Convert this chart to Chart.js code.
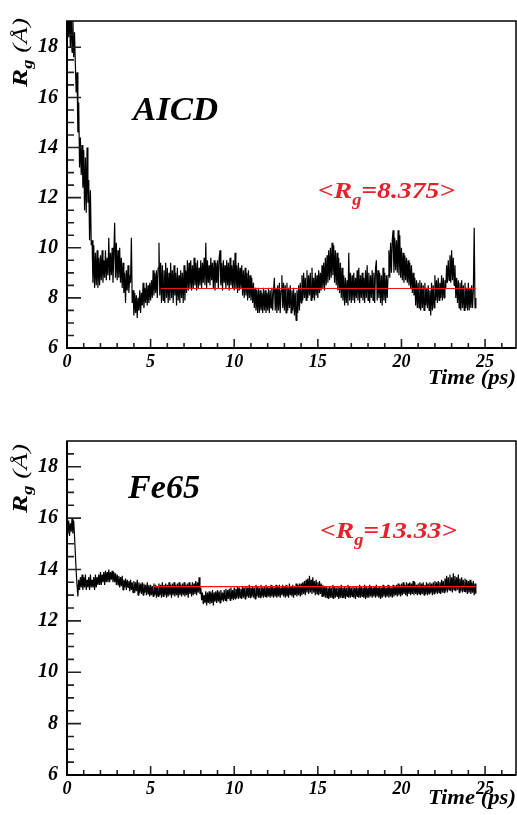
<!DOCTYPE html>
<html>
<head>
<meta charset="utf-8">
<title>Radius of gyration</title>
<script src="https://cdn.jsdelivr.net/npm/chart.js@4.4.1/dist/chart.umd.min.js"></script>
<style>
  html, body { margin: 0; padding: 0; background: #fff; }
  #wrap { position: relative; width: 517px; height: 815px; overflow: hidden; }
  canvas { position: absolute; left: 0; }
</style>
</head>
<body>
<div id="wrap">
  <canvas id="aicd" width="517" height="408" style="top:0px"></canvas>
  <canvas id="fe65" width="517" height="407" style="top:408px"></canvas>
</div>
<script>
// Sampling interval of the trajectories (ps)
const SAMPLE_STEP_PS = 0.05;

// AICD radius of gyration (Å), one value per sample, 0.5 ps per line
const aicdRg = [
  18.9, 19.6, 18.4, 19.5, 18.0, 19.4, 17.8, 19.2, 17.6, 18.6,
  17.3, 16.2, 17.0, 14.6, 15.8, 13.2, 14.4, 12.9, 14.1, 12.4,
  13.9, 11.5, 13.6, 11.4, 14.0, 11.8, 12.7, 10.3, 12.3, 10.1,
  10.3, 8.6, 10.1, 8.4, 9.8, 8.5, 9.9, 8.4, 9.6, 8.5,
  9.7, 8.7, 9.9, 8.6, 9.5, 8.8, 9.9, 8.7, 9.6, 8.9,
  10.4, 8.7, 9.8, 8.9, 10.0, 8.6, 9.7, 11.0, 8.8, 10.2,
  8.7, 9.9, 8.8, 10.0, 8.6, 9.6, 8.4, 9.4, 8.2, 9.0,
  7.8, 9.1, 8.3, 9.3, 8.2, 8.9, 8.6, 10.4, 7.8, 8.3,
  7.3, 8.2, 7.4, 8.1, 7.2, 8.0, 7.5, 8.3, 7.4, 8.2,
  7.7, 8.6, 7.6, 8.4, 7.8, 8.6, 7.7, 8.5, 7.8, 8.6,
  7.9, 8.7, 8.0, 9.1, 8.1, 9.0, 8.2, 9.1, 8.0, 9.2,
  10.2, 8.1, 9.4, 7.8, 9.3, 7.9, 9.1, 7.8, 9.4, 8.0,
  9.2, 7.8, 9.0, 7.9, 9.4, 8.0, 9.1, 7.8, 9.3, 8.1,
  9.0, 7.7, 9.2, 7.9, 8.9, 7.8, 9.1, 8.0, 9.0, 7.8,
  9.3, 7.9, 9.1, 8.2, 9.5, 8.3, 9.4, 8.4, 9.5, 8.3,
  9.3, 8.4, 9.6, 8.5, 9.4, 8.3, 9.5, 8.4, 9.2, 8.5,
  9.5, 8.4, 9.4, 8.6, 9.6, 8.5, 10.2, 8.4, 9.5, 8.6,
  9.3, 8.5, 9.6, 8.7, 9.4, 8.4, 9.5, 8.3, 9.4, 8.6,
  9.5, 8.4, 9.6, 9.9, 8.5, 9.4, 8.3, 9.5, 8.6, 9.3,
  8.4, 9.5, 8.5, 9.4, 8.3, 9.6, 8.5, 9.3, 8.4, 9.5,
  8.3, 9.8, 8.4, 9.3, 8.2, 9.4, 8.3, 9.2, 8.4, 9.3,
  8.1, 9.1, 8.0, 9.2, 8.1, 9.0, 7.9, 9.1, 8.0, 8.9,
  7.9, 8.8, 7.8, 8.6, 7.6, 8.4, 7.5, 8.3, 7.4, 8.4,
  7.4, 8.3, 7.5, 8.2, 7.4, 8.4, 7.5, 8.3, 7.4, 8.2,
  7.5, 8.4, 7.4, 8.3, 7.6, 8.4, 7.5, 8.3, 8.8, 7.5,
  8.4, 7.4, 8.5, 7.5, 8.6, 7.4, 8.3, 8.9, 7.6, 8.6,
  7.5, 8.5, 7.4, 8.6, 7.5, 8.4, 7.6, 8.5, 7.4, 8.3,
  7.5, 8.4, 7.3, 8.2, 7.1, 8.3, 7.4, 8.5, 7.5, 8.6,
  7.8, 8.9, 7.9, 9.0, 8.0, 8.8, 7.9, 9.1, 8.0, 8.9,
  8.1, 9.0, 7.9, 9.2, 8.0, 8.8, 7.9, 9.0, 8.1, 8.9,
  8.0, 9.1, 8.2, 9.0, 8.3, 9.3, 8.4, 9.4, 8.3, 9.6,
  8.5, 9.7, 8.6, 9.9, 8.7, 10.0, 8.8, 10.2, 8.9, 10.1,
  8.6, 9.9, 8.5, 9.8, 8.3, 9.6, 8.2, 9.4, 8.0, 9.2,
  7.9, 8.9, 7.7, 8.8, 7.8, 8.7, 7.7, 9.8, 7.9, 9.0,
  7.8, 8.9, 7.9, 9.0, 7.8, 8.8, 8.0, 9.1, 7.9, 9.2,
  7.8, 8.9, 8.0, 9.0, 7.9, 8.8, 7.8, 9.1, 8.0, 9.3,
  7.9, 9.0, 7.8, 8.9, 8.0, 9.1, 7.9, 9.0, 7.8, 9.2,
  9.5, 7.9, 9.1, 8.0, 9.0, 7.8, 8.9, 7.7, 9.2, 7.9,
  9.0, 7.8, 8.9, 8.0, 8.9, 9.9, 8.8, 10.2, 9.0, 10.3,
  10.7, 9.0, 10.4, 9.1, 10.3, 9.0, 10.7, 8.9, 10.5, 8.8,
  10.0, 8.7, 9.8, 8.6, 9.7, 8.7, 9.6, 8.6, 9.5, 8.5,
  9.4, 8.4, 9.3, 8.2, 9.0, 8.1, 8.8, 7.7, 8.7, 7.6,
  8.6, 7.6, 8.7, 7.5, 8.6, 7.6, 8.5, 7.5, 8.6, 7.7,
  8.4, 7.6, 8.5, 7.5, 8.3, 7.3, 8.6, 7.5, 8.5, 7.6,
  8.9, 7.9, 8.7, 7.8, 8.8, 7.9, 8.6, 8.0, 8.9, 7.9,
  8.8, 8.0, 8.7, 8.4, 9.3, 8.6, 9.5, 8.7, 9.7, 8.6,
  9.9, 8.7, 9.6, 8.5, 9.3, 8.0, 8.8, 7.8, 8.7, 7.6,
  8.6, 7.5, 8.7, 7.6, 8.5, 7.5, 8.6, 7.6, 8.4, 7.5,
  8.6, 7.5, 8.4, 7.6, 8.5, 7.6, 8.3, 10.8, 7.6, 8.0
];

// Fe65 radius of gyration (Å), one value per sample, 0.5 ps per line
const fe65Rg = [
  15.8, 15.4, 15.9, 15.3, 15.8, 15.5, 16.0, 15.4, 15.9, 15.3,
  14.6, 13.9, 13.4, 12.95, 13.6, 13.2, 13.7, 13.3, 13.8, 13.2,
  13.7, 13.3, 13.8, 13.2, 13.6, 13.3, 13.7, 13.2, 13.8, 13.3,
  13.6, 13.3, 13.7, 13.2, 13.8, 13.3, 13.7, 13.4, 13.8, 13.4,
  13.9, 13.4, 13.8, 13.5, 13.9, 13.4, 13.95, 13.5, 13.9, 13.5,
  14.0, 13.5, 13.9, 13.6, 13.95, 13.5, 13.9, 13.5, 13.85, 13.4,
  13.8, 13.4, 13.75, 13.3, 13.7, 13.35, 13.75, 13.2, 13.6, 13.3,
  13.65, 13.2, 13.6, 13.3, 13.55, 13.15, 13.6, 13.2, 13.5, 13.1,
  13.55, 13.1, 13.5, 13.15, 13.6, 13.0, 13.5, 13.1, 13.45, 13.05,
  13.5, 13.0, 13.45, 13.1, 13.4, 13.0, 13.5, 13.05, 13.4, 12.95,
  13.4, 13.0, 13.35, 12.95, 13.45, 13.0, 13.4, 12.9, 13.35, 12.95,
  13.45, 13.0, 13.4, 12.9, 13.5, 12.95, 13.4, 13.0, 13.45, 12.9,
  13.4, 12.95, 13.5, 13.0, 13.4, 12.9, 13.45, 13.0, 13.5, 12.95,
  13.4, 13.0, 13.45, 12.9, 13.5, 13.0, 13.4, 12.95, 13.45, 13.0,
  13.5, 12.95, 13.4, 13.0, 13.45, 12.9, 13.5, 13.05, 13.4, 12.95,
  13.5, 13.0, 13.45, 13.05, 13.55, 13.0, 13.5, 13.1, 13.7, 13.05,
  13.3, 12.8, 13.1, 12.65, 13.0, 12.7, 13.15, 12.6, 13.1, 12.7,
  13.15, 12.65, 13.1, 12.7, 13.2, 12.6, 13.1, 12.75, 13.15, 12.7,
  13.2, 12.75, 13.15, 12.7, 13.2, 12.8, 13.1, 12.75, 13.2, 12.8,
  13.25, 12.75, 13.2, 12.85, 13.25, 12.8, 13.3, 12.85, 13.2, 12.8,
  13.3, 12.85, 13.25, 12.9, 13.35, 12.85, 13.3, 12.9, 13.25, 12.85,
  13.35, 12.9, 13.3, 12.85, 13.35, 12.95, 13.3, 12.9, 13.4, 12.9,
  13.3, 12.95, 13.35, 12.9, 13.3, 12.85, 13.4, 12.95, 13.35, 12.9,
  13.3, 12.9, 13.4, 12.95, 13.3, 12.9, 13.35, 12.95, 13.4, 12.9,
  13.35, 12.95, 13.3, 12.9, 13.4, 12.95, 13.35, 12.9, 13.3, 12.95,
  13.4, 12.9, 13.35, 12.95, 13.4, 12.9, 13.3, 13.0, 13.4, 12.95,
  13.35, 12.9, 13.4, 12.95, 13.3, 12.9, 13.45, 13.0, 13.35, 12.95,
  13.4, 12.9, 13.35, 13.0, 13.45, 12.95, 13.4, 13.0, 13.45, 12.95,
  13.45, 13.0, 13.5, 13.05, 13.55, 13.0, 13.6, 13.1, 13.65, 13.05,
  13.75, 13.1, 13.6, 13.05, 13.7, 13.1, 13.55, 13.0, 13.6, 13.05,
  13.5, 13.0, 13.55, 13.05, 13.45, 12.95, 13.4, 12.95, 13.35, 12.9,
  13.35, 12.9, 13.3, 12.85, 13.35, 12.9, 13.3, 12.9, 13.4, 12.85,
  13.35, 12.9, 13.3, 12.95, 13.35, 12.85, 13.3, 12.9, 13.4, 12.9,
  13.3, 12.9, 13.35, 12.85, 13.3, 12.95, 13.4, 12.9, 13.35, 12.9,
  13.3, 12.95, 13.35, 12.9, 13.3, 12.85, 13.35, 12.95, 13.3, 12.9,
  13.4, 12.9, 13.35, 12.95, 13.3, 12.9, 13.4, 12.85, 13.35, 12.9,
  13.3, 12.9, 13.4, 12.95, 13.35, 12.9, 13.3, 12.95, 13.35, 12.9,
  13.4, 12.95, 13.3, 12.9, 13.35, 12.85, 13.3, 12.9, 13.4, 12.95,
  13.35, 12.9, 13.3, 12.95, 13.4, 12.9, 13.35, 12.95, 13.3, 12.9,
  13.4, 12.95, 13.35, 13.0, 13.4, 12.95, 13.45, 13.0, 13.4, 12.95,
  13.45, 13.0, 13.5, 13.05, 13.4, 13.0, 13.5, 12.95, 13.45, 13.05,
  13.5, 13.0, 13.45, 13.05, 13.55, 13.0, 13.5, 13.05, 13.4, 13.0,
  13.45, 13.05, 13.5, 13.0, 13.45, 13.05, 13.5, 13.0, 13.4, 13.05,
  13.5, 13.0, 13.45, 13.05, 13.5, 13.1, 13.45, 13.0, 13.5, 13.05,
  13.55, 13.1, 13.5, 13.05, 13.55, 13.1, 13.5, 13.05, 13.6, 13.1,
  13.55, 13.1, 13.65, 13.15, 13.75, 13.1, 13.7, 13.2, 13.8, 13.15,
  13.7, 13.1, 13.85, 13.2, 13.75, 13.15, 13.7, 13.2, 13.8, 13.1,
  13.65, 13.15, 13.7, 13.1, 13.6, 13.15, 13.65, 13.1, 13.6, 13.05,
  13.55, 13.1, 13.6, 13.05, 13.5, 13.1, 13.55, 13.0, 13.45, 13.05
];

// Mean radius of gyration and the time window it is averaged over
const aicdMean = 8.375;
const aicdMeanWindow = [5.6, 24.45];
const fe65Mean = 13.33;
const fe65MeanWindow = [5.2, 24.45];

// Axis ticks
const timeTicks = [0, 5, 10, 15, 20, 25];
const rgTicks = [6, 8, 10, 12, 14, 16, 18];

const SERIF = '"Liberation Serif", "Times New Roman", serif';
const LABEL_RED = '#e8202a';
const LINE_RED = '#f01414';

// Draws a run of differently styled text pieces on one baseline,
// optionally squeezed/stretched horizontally to a given total width.
function drawRich(ctx, parts, x, y, width) {
  ctx.save();
  let total = 0;
  parts.forEach(p => {
    ctx.font = p.font;
    p.w = ctx.measureText(p.text).width;
    total += p.w;
  });
  ctx.translate(x, y);
  if (width) ctx.scale(width / total, 1);
  let cx = 0;
  ctx.textBaseline = 'alphabetic';
  ctx.textAlign = 'left';
  parts.forEach(p => {
    ctx.font = p.font;
    ctx.fillText(p.text, cx, p.dy || 0);
    cx += p.w;
  });
  ctx.restore();
}

// ROOT-style frame: box, inward major/minor ticks, panel annotations
const rootFrame = {
  id: 'rootFrame',
  afterDatasetsDraw(chart, args, o) {
    const { ctx, chartArea: a, scales: { x, y } } = chart;
    ctx.save();
    ctx.strokeStyle = '#222';
    ctx.lineWidth = 1.6;
    ctx.beginPath();
    for (let k = 12; k <= 37; k++) {           // every 0.5 Å from 6 to 18.5
      const v = k / 2;
      const py = y.getPixelForValue(v);
      const len = (k % 4 === 0) ? 14 : 7;
      ctx.moveTo(a.left, py);
      ctx.lineTo(a.left + len, py);
    }
    for (let t = 1; t <= 26; t++) {             // every 1 ps
      const px = x.getPixelForValue(t);
      const len = (t % 5 === 0) ? 9 : 5;
      ctx.moveTo(px, a.bottom);
      ctx.lineTo(px, a.bottom - len);
    }
    ctx.stroke();

    ctx.strokeStyle = '#000';
    ctx.lineWidth = 1.5;
    ctx.strokeRect(a.left, a.top, a.right - a.left, a.bottom - a.top);
    ctx.lineWidth = 2;
    ctx.beginPath();
    ctx.moveTo(a.left, a.top);
    ctx.lineTo(a.left, a.bottom);
    ctx.lineTo(a.right, a.bottom);
    ctx.stroke();
    ctx.restore();
  },
  afterDraw(chart, args, o) {
    const { ctx } = chart;
    ctx.save();
    ctx.fillStyle = '#000';

    // y-axis title, rotated
    ctx.save();
    ctx.translate(27, o.yTitleBase);
    ctx.rotate(-Math.PI / 2);
    drawRich(ctx, [
      { text: 'R', font: `bold italic 22px ${SERIF}` },
      { text: 'g', font: `bold italic 15px ${SERIF}`, dy: 5 },
      { text: ' (Å)', font: `italic 22px ${SERIF}` }
    ], 0, 0, 69);
    ctx.restore();

    // x-axis title
    drawRich(ctx, [{ text: 'Time (ps)', font: `bold italic 21px ${SERIF}` }],
      428, o.xTitleBase, 88);

    // panel name
    drawRich(ctx, [{ text: o.name, font: `bold italic 33px ${SERIF}` }],
      o.nameX, o.nameBase, o.nameWidth);

    // mean value
    ctx.fillStyle = LABEL_RED;
    drawRich(ctx, [
      { text: '<R', font: `bold italic 24px ${SERIF}` },
      { text: 'g', font: `bold italic 16px ${SERIF}`, dy: 7 },
      { text: '=' + o.mean + '>', font: `bold italic 24px ${SERIF}` }
    ], o.meanX, o.meanBase, 137);
    ctx.restore();
  }
};

function makeChart(id, values, mean, win, yMax, pad, frame) {
  const trace = values.map((v, i) => ({ x: Math.round(i * SAMPLE_STEP_PS * 100) / 100, y: v }));
  return new Chart(document.getElementById(id), {
    type: 'line',
    data: {
      datasets: [
        {
          data: [{ x: win[0], y: mean }, { x: win[1], y: mean }],
          borderColor: LINE_RED, borderWidth: 1.2, pointRadius: 0, order: 0
        },
        {
          data: trace,
          borderColor: '#000', borderWidth: 1.2, borderJoinStyle: 'bevel',
          pointRadius: 0, tension: 0, order: 1
        }
      ]
    },
    options: {
      responsive: false,
      animation: false,
      devicePixelRatio: 1,
      events: [],
      layout: { padding: pad },
      plugins: {
        legend: { display: false },
        tooltip: { enabled: false },
        rootFrame: frame
      },
      scales: {
        x: {
          type: 'linear', min: 0, max: 26.85,
          afterBuildTicks: s => { s.ticks = timeTicks.map(v => ({ value: v })); },
          afterFit: s => { s.height = 30; },
          grid: { display: false, drawTicks: false, tickLength: 0 },
          border: { display: false },
          ticks: {
            padding: 4, color: '#000', maxRotation: 0, autoSkip: false,
            font: { family: SERIF, size: 18, style: 'italic', weight: 'bold' }
          }
        },
        y: {
          type: 'linear', min: 6, max: yMax,
          afterBuildTicks: s => { s.ticks = rgTicks.map(v => ({ value: v })); },
          afterFit: s => { s.width = 50; },
          grid: { display: false, drawTicks: false, tickLength: 0 },
          border: { display: false },
          ticks: {
            padding: 9, color: '#000', autoSkip: false,
            font: { family: SERIF, size: 20, style: 'italic', weight: 'bold' }
          }
        }
      }
    },
    plugins: [rootFrame]
  });
}

makeChart('aicd', aicdRg, aicdMean, aicdMeanWindow, 19.05,
  { left: 17, right: 1, top: 13, bottom: 30 },
  { name: 'AICD', nameX: 133, nameBase: 120, nameWidth: 85,
    mean: aicdMean, meanX: 318, meanBase: 198,
    yTitleBase: 87, xTitleBase: 384 });

makeChart('fe65', fe65Rg, fe65Mean, fe65MeanWindow, 19.0,
  { left: 17, right: 1, top: 33, bottom: 10 },
  { name: 'Fe65', nameX: 128, nameBase: 90, nameWidth: 72,
    mean: fe65Mean, meanX: 320, meanBase: 130,
    yTitleBase: 105, xTitleBase: 396 });
</script>
</body>
</html>
